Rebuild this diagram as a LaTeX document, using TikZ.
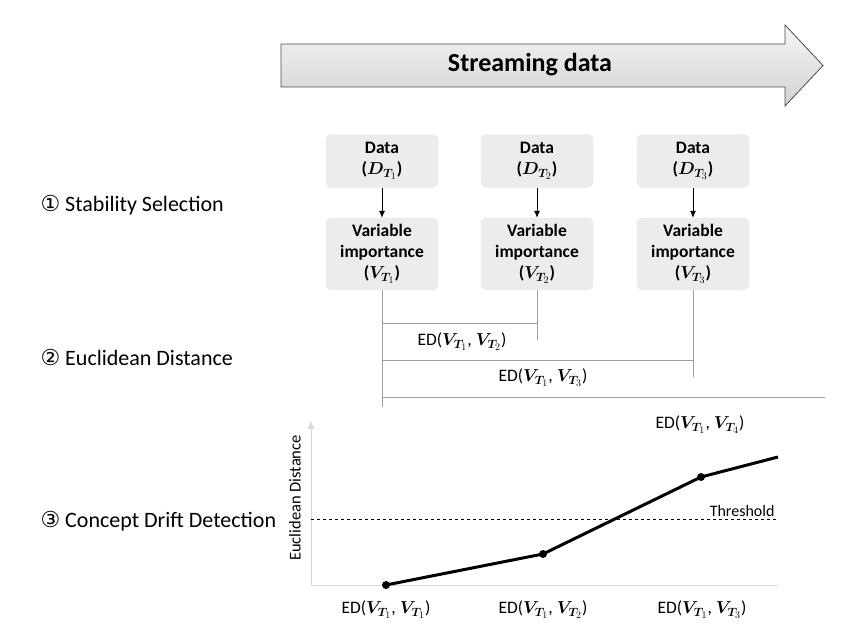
\documentclass[tikz,border=0pt]{standalone}
\usepackage{bm}
\usepackage{fontspec}
\setmainfont{Carlito}
\newfontfamily\circfont{DejaVu Sans}
\usetikzlibrary{arrows.meta}
\DeclareMathSizes{17.5}{17.5}{13}{10}
\DeclareMathSizes{17}{17}{13}{10}
\tikzset{
  box/.style={rounded corners=6pt, fill=gray!15, draw=gray!20, minimum width=112pt,
    align=center, font=\bfseries\fontsize{17.5}{21}\selectfont},
  edline/.style={gray!75, line width=1pt},
  edlabel/.style={font=\fontsize{17.5}{20}\selectfont},
  steplabel/.style={anchor=west, font=\fontsize{22}{26}\selectfont},
  axis/.style={gray!30, line width=0.8pt}
}
\newcommand{\ED}[2]{ED($\bm{V}_{\bm{T}_{#1}}$, $\bm{V}_{\bm{T}_{#2}}$)}
\begin{document}
\begin{tikzpicture}[x=1pt,y=-1pt]
\useasboundingbox (0,0) rectangle (852,642);
\shade[top color=gray!8, bottom color=gray!35, draw=gray!60!black, line width=0.8pt]
  (281,44) -- (785,44) -- (785,25) -- (823,65.5) -- (785,106) -- (785,87) -- (281,87) -- cycle;
\node (stream) at (530,65) {\bfseries\fontsize{26}{30}\selectfont Streaming data};
\node[steplabel] (s1) at (37,205) {{\circfont ①} Stability Selection};
\node[steplabel] (s2) at (37,357) {{\circfont ②} Euclidean Distance};
\node[steplabel] (s3) at (37,521) {{\circfont ③} Concept Drift Detection};
\foreach \i/\x in {1/382, 2/537, 3/693} {
  \node[box, minimum height=53pt] (d\i) at (\x,161) {Data\\($\bm{D}_{\bm{T}_{\i}}$)};
  \node[box, minimum height=72pt] (v\i) at (\x,254) {Variable\\importance\\($\bm{V}_{\bm{T}_{\i}}$)};
  \draw[-{Latex[length=7pt,width=6pt]}, line width=0.8pt] (d\i) -- (v\i);
}
\draw[edline] (v1.south) -- ++(0,117) coordinate (e1);
\draw[edline] (v2.south) -- ++(0,50) coordinate (e2);
\draw[edline] (v3.south) -- ++(0,87) coordinate (e3);
\coordinate (e4) at (825,397);
\draw[edline] (v1.south |- 0,323) -- (v2.south |- 0,323);
\draw[edline] (v1.south |- 0,360) -- (v3.south |- 0,360);
\draw[edline] (v1.south |- e4) -- (e4);
\node[edlabel] (ed12) at (462,342) {\ED{1}{2}};
\node[edlabel] (ed13) at (543,378) {\ED{1}{3}};
\node[edlabel] (ed14) at (700,425) {\ED{1}{4}};
\coordinate (o) at (311,585);
\draw[axis] (o) -- (778,585);
\draw[axis, -{Latex[length=8pt,width=7pt]}] (o) -- (311,421);
\node[rotate=90, font=\fontsize{16.5}{18}\selectfont] (ylab) at (295,498) {Euclidean Distance};
\draw[dashed, line width=0.8pt] (311,519) -- (778,519);
\node[anchor=base east, font=\fontsize{16}{18}\selectfont] (thr) at (778,516) {Threshold};
\foreach \n/\x/\y in {p1/386/585, p2/543/554, p3/701/477, p4/778/457}
  \coordinate (\n) at (\x,\y);
\draw[line width=3pt, line join=round] (p1) -- (p2) -- (p3) -- (p4);
\foreach \n in {p1,p2,p3}
  \fill (\n) circle (4pt);
\foreach \i/\x in {1/386, 2/543, 3/702}
  \node[edlabel] (x\i) at (\x,610) {\ED{1}{\i}};
\end{tikzpicture}
\end{document}
